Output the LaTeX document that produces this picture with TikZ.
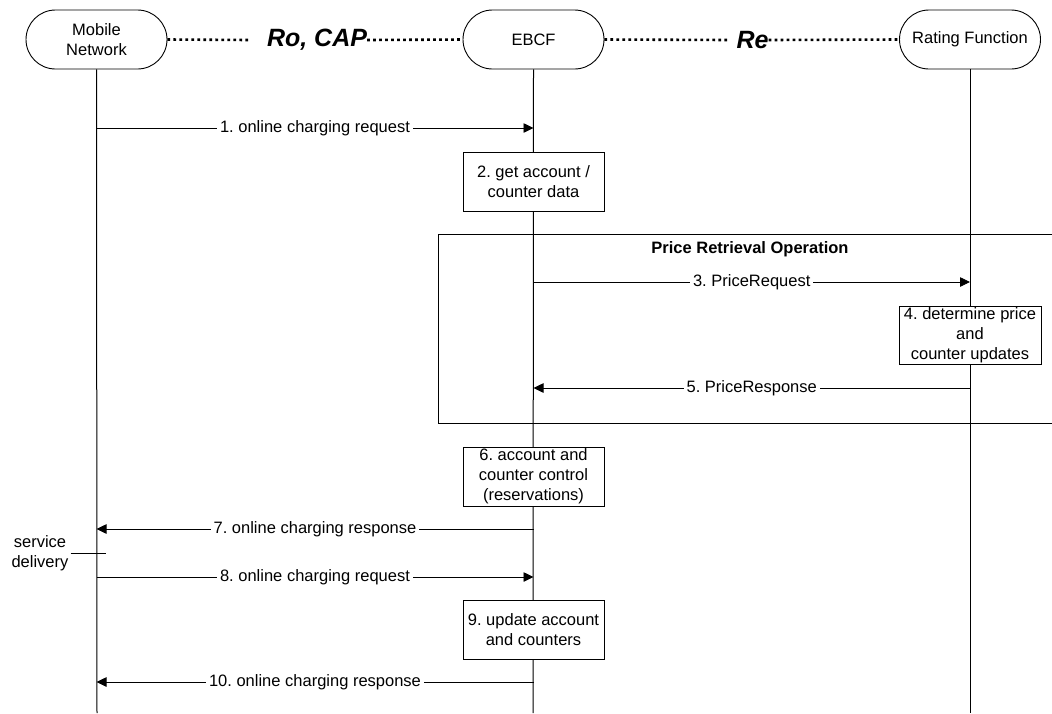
\documentclass[tikz,border=0pt]{standalone}
\usepackage{fontspec}
\setmainfont{Liberation Sans}
\usetikzlibrary{arrows.meta,shapes.misc}
\frenchspacing
\begin{document}
\begin{tikzpicture}[x=1pt,y=-1pt,
  every node/.style={font=\fontsize{16.5}{20}\selectfont},
  entity/.style={draw, line width=0.9pt, rounded rectangle, rounded rectangle arc length=180, minimum width=141pt, minimum height=59pt, align=center, inner sep=0pt, fill=white},
  actbox/.style={draw, line width=0.9pt, minimum width=141pt, minimum height=59pt, align=center, inner sep=0pt, fill=white},
  lifeline/.style={line width=1pt},
  msg/.style={line width=0.8pt, -{Triangle[length=10pt,width=9.5pt]}},
  lbl/.style={fill=white, inner xsep=3pt, inner ysep=1pt},
  ifline/.style={line width=2.6pt, dash pattern=on 2.6pt off 3.4pt},
  iflbl/.style={inner sep=0pt, font=\fontsize{25}{28}\selectfont\bfseries\itshape},
  frame/.style={line width=0.9pt}
]
\useasboundingbox (0,0) rectangle (1052,713);

% entities
\node[entity] (mn) at (96.5,39.5) {Mobile\\Network};
\node[entity] (eb) at (533.5,39.5) {EBCF};
\node[entity] (rf) at (970,39.5) {Rating Function};

% interfaces
\node[iflbl] (ro) at (317,40) {Ro, CAP};
\node[iflbl] (re) at (752.5,40) {Re};
\coordinate (roL) at (250,40);
\coordinate (reL) at (728,40);
\draw[ifline] (mn.east) -- (roL);
\draw[ifline] (ro.east) -- (eb.west);
\draw[ifline] (eb.east) -- (reL);
\draw[ifline] (re.east) -- (rf.west);

% lifeline ends
\coordinate (mnEnd) at (97,713);
\coordinate (ebEnd) at (533,713);
\coordinate (rfEnd) at (970,713);
\draw[lifeline] (mn.south) -- (mnEnd);
\draw[lifeline] (eb.south) -- (ebEnd);
\draw[lifeline] (rf.south) -- (rfEnd);

% frame
\coordinate (frTR) at (1060,234);
\coordinate (frTL) at (438,234);
\coordinate (frBL) at (438,423);
\coordinate (frBR) at (1060,423);
\draw[frame] (frTR) -- (frTL) -- (frBL) -- (frBR);
\node[font=\fontsize{16.5}{20}\selectfont\bfseries] (frT) at (750,249) {Price Retrieval Operation};

% message y levels
\coordinate (y1) at (0,128);
\coordinate (y3) at (0,282);
\coordinate (y5) at (0,388);
\coordinate (y7) at (0,529);
\coordinate (y8) at (0,577);
\coordinate (y10) at (0,682);

\draw[msg] (mn.south |- y1) -- (eb.south |- y1) node[midway, lbl] {1. online charging request};
\draw[msg] (eb.south |- y3) -- (rf.south |- y3) node[midway, lbl] {3. PriceRequest};
\draw[msg] (rf.south |- y5) -- (eb.south |- y5) node[midway, lbl] {5. PriceResponse};
\draw[msg] (eb.south |- y7) -- (mn.south |- y7) node[midway, lbl] {7. online charging response};
\draw[msg] (mn.south |- y8) -- (eb.south |- y8) node[midway, lbl] {8. online charging request};
\draw[msg] (eb.south |- y10) -- (mn.south |- y10) node[midway, lbl] {10. online charging response};

% activity boxes
\node[actbox] (b2) at (533.5,181.5) {2. get account /\\counter data};
\node[actbox, minimum width=142pt, minimum height=58pt] (b4) at (970,335) {4. determine price\\and\\counter updates};
\node[actbox] (b6) at (533.5,476.5) {6. account and\\counter control\\(reservations)};
\node[actbox] (b9) at (533.5,629.5) {9. update account\\and counters};

% service delivery
\node[align=center, inner xsep=2pt] (sd) at (40,553) {service\\delivery};
\coordinate (sdEnd) at (106,553);
\draw[line width=1pt] (sd.east) -- (sdEnd);
\end{tikzpicture}
\end{document}
